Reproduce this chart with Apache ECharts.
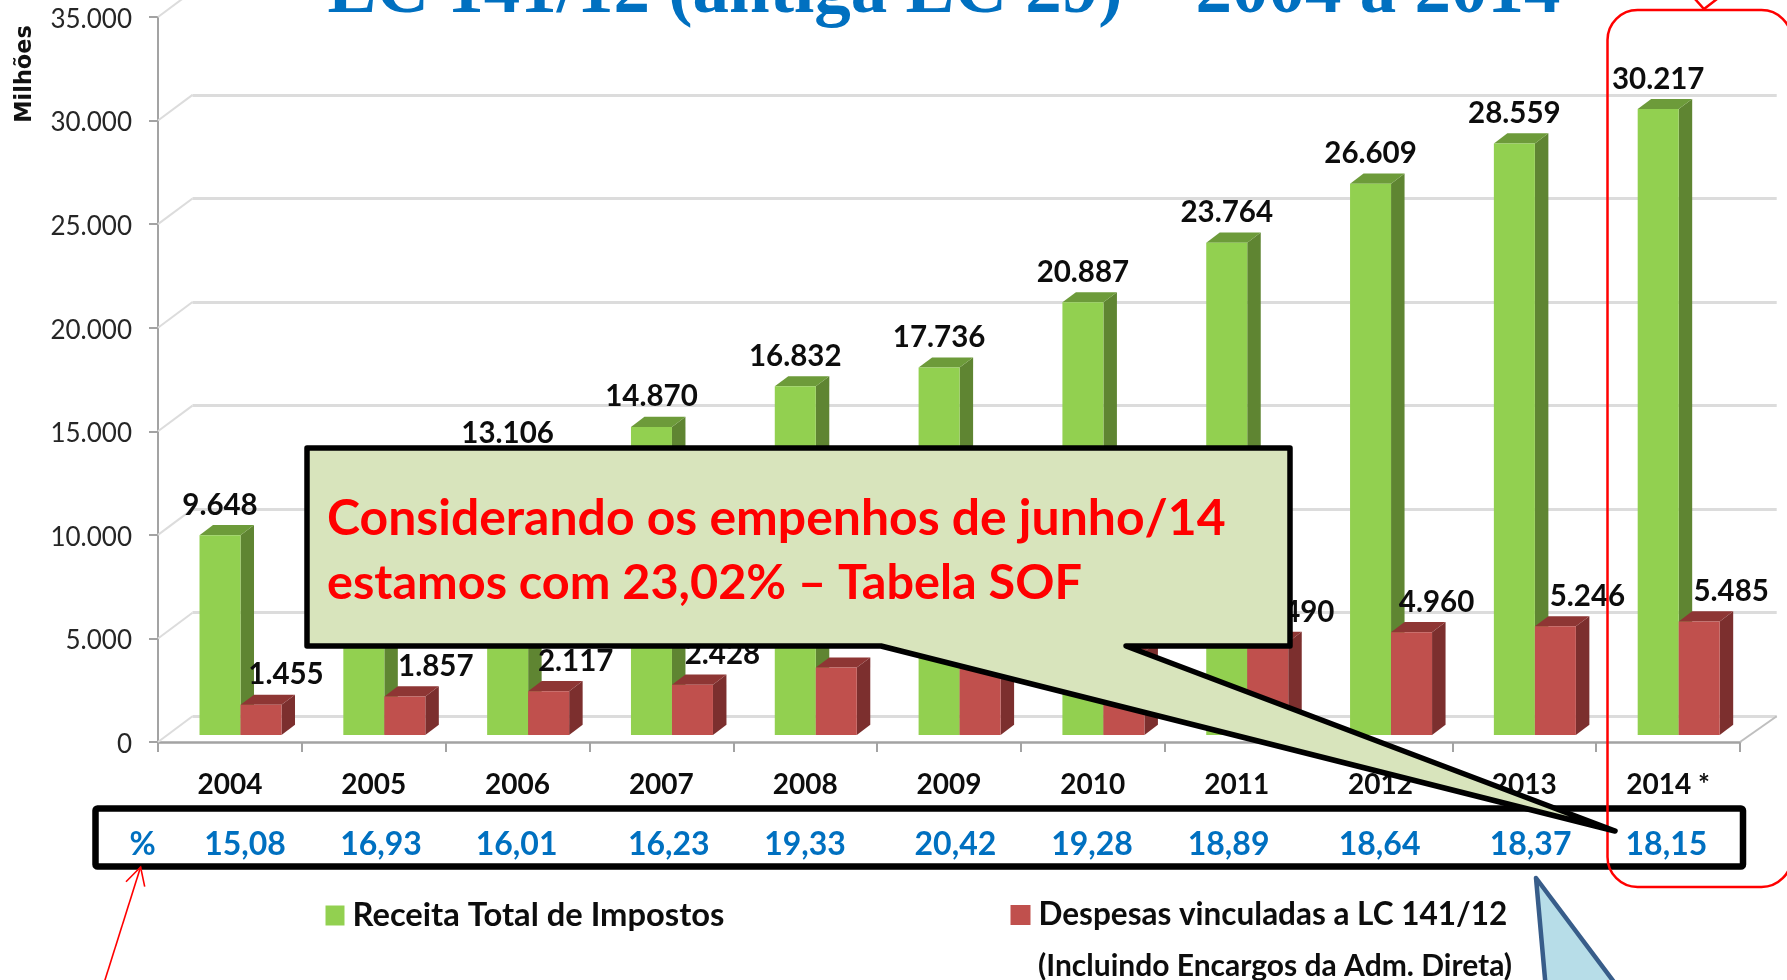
<!DOCTYPE html>
<html><head><meta charset="utf-8">
<script src="https://cdn.jsdelivr.net/npm/echarts@6/dist/echarts.min.js"></script>
<style>html,body{margin:0;padding:0;background:#fff;overflow:hidden}#c{width:1787px;height:980px}</style>
</head><body><div id="c"></div>
<script>
const categories = ['2004','2005','2006','2007','2008','2009','2010','2011','2012','2013','2014 *'];
const receita = [9648,10969,13106,14870,16832,17736,20887,23764,26609,28559,30217];
const despesas = [1455,1857,2117,2428,3254,3622,4027,4490,4960,5246,5485];
const percentuais = ['15,08','16,93','16,01','16,23','19,33','20,42','19,28','18,89','18,64','18,37','18,15'];
const yTicks = [0,5000,10000,15000,20000,25000,30000,35000];
const nameReceita = 'Receita Total de Impostos';
const nameDespesas = 'Despesas vinculadas a LC 141/12';

// layout / style only
const redLabelDx = [25,31,27,30,29,29,29,29,25,32,32];
const pctX = [245,381,516.6,668.8,805,955.4,1092,1228.6,1379.6,1530.6,1666.4];
const BAR_W = 41, DX = 13.5, DY = 10.2;
const FONT = 'Lato, "Liberation Sans", sans-serif';
const WALL = '#DCDCDC', AXIS = '#A3A3A3', BLUE = '#0070C0';

const dots = v => v === 0 ? '0' : String(v).replace(/\B(?=(\d{3})+$)/g, '.');

function depthSeries(values, side, sideColor, topColor, z) {
  return {
    type: 'custom', xAxisIndex: 1, yAxisIndex: 1, z, silent: true,
    data: values.map((v, i) => [i, v]),
    renderItem(params, api) {
      const top = api.coord([api.value(0), api.value(1)]);
      const base = api.coord([api.value(0), 0]);
      const l = side < 0 ? top[0] - BAR_W : top[0];
      const r = l + BAR_W;
      return { type: 'group', children: [
        { type: 'polygon', shape: { points: [[r, top[1]], [r + DX, top[1] - DY], [r + DX, base[1] - DY], [r, base[1]]] }, style: { fill: sideColor } },
        { type: 'polygon', shape: { points: [[l, top[1]], [l + DX, top[1] - DY], [r + DX, top[1] - DY], [r, top[1]]] }, style: { fill: topColor } }
      ] };
    }
  };
}

const barLabel = { show: true, position: 'top', distance: 15, color: '#0d0d0d', fontFamily: FONT, fontWeight: 'bold', fontSize: 29.5, formatter: p => dots(p.value) };

const z9 = 100;
const txt = (text, x, y, fontSize, fill, extra) => Object.assign({
  type: 'text', z: z9, x, y,
  style: Object.assign({ text, fill, fontFamily: FONT, fontWeight: 'bold', fontSize, textAlign: 'center', textVerticalAlign: 'middle' }, extra || {})
});
const legendText = size => ({ fontFamily: FONT, fontWeight: 'bold', fontSize: size, color: '#0d0d0d', padding: [0, 0, 2, 3] });

const graphics = [
  { type: 'rect', z: 50, shape: { x: 95.5, y: 808.5, width: 1647.5, height: 58, r: 2 }, style: { fill: '#fff', stroke: '#000', lineWidth: 6.5 } },
  ...percentuais.map((p, i) => Object.assign(txt(p, pctX[i], 845, 32, BLUE), { z: 51 })),
  Object.assign(txt('%', 142.5, 845, 32, BLUE), { z: 51 }),
  { type: 'rect', z: 52, shape: { x: 1607.5, y: 10, width: 184, height: 877, r: 30 }, style: { fill: 'none', stroke: '#F00', lineWidth: 2.5 } },
  { type: 'polyline', z: 52, shape: { points: [[1695, -1], [1704, 9], [1717, -1]] }, style: { fill: 'none', stroke: '#F00', lineWidth: 2.5 } },
  { type: 'polyline', z: 52, shape: { points: [[103.4, 985], [140.6, 867]] }, style: { stroke: '#F00', lineWidth: 1.6, fill: 'none' } },
  { type: 'polyline', z: 52, shape: { points: [[126, 881.7], [140.6, 867], [144.7, 886.7]] }, style: { stroke: '#F00', lineWidth: 1.6, fill: 'none' } },
  { type: 'polygon', z: z9, shape: { points: [[307, 448], [1290, 448], [1290, 646], [1126, 646], [1615, 831], [881, 646], [307, 646]] },
    style: { fill: '#D8E4BC', stroke: '#000', lineWidth: 5.5, lineJoin: 'round' } },
  { type: 'polygon', z: z9, shape: { points: [[1536, 878], [1620, 990], [1546, 990]] }, style: { fill: '#B7DDE8', stroke: '#385D8A', lineWidth: 4.5, lineJoin: 'round' } },
  txt('Considerando os empenhos de junho/14', 327, 519, 49.9, '#F00', { textAlign: 'left', shadowColor: 'rgba(0,0,0,.45)', shadowBlur: 3, shadowOffsetX: 2, shadowOffsetY: 2 }),
  txt('estamos com 23,02% – Tabela SOF', 327, 583, 48.6, '#F00', { textAlign: 'left', shadowColor: 'rgba(0,0,0,.45)', shadowBlur: 3, shadowOffsetX: 2, shadowOffsetY: 2 }),
  Object.assign(txt('Milhões', 25, 74, 22.4, '#111', { fontFamily: '"DejaVu Sans"' }), { rotation: Math.PI / 2 }),
  txt('(Incluindo Encargos da Adm. Direta)', 1038, 966, 30, '#0d0d0d', { textAlign: 'left' })
];

const chart = echarts.init(document.getElementById('c'));
chart.setOption({
  animation: false,
  backgroundColor: '#fff',
  title: { text: 'LC 141/12 (antiga LC 29) – 2004 a 2014', left: 939, textAlign: 'center', top: -48,
    textStyle: { fontFamily: '"Liberation Serif"', fontWeight: 'bold', fontSize: 73, color: BLUE } },
  grid: [
    { left: 158, width: 1582, top: 17, height: 725, outerBoundsMode: 'none' },
    { left: 168.6, width: 1582, top: 10, height: 725, outerBoundsMode: 'none' },
    { left: 192.5, width: 1584.2, top: -8.7, height: 725, outerBoundsMode: 'none' }
  ],
  legend: [
    { data: [nameReceita], left: 325.5, top: 899, padding: 0, itemWidth: 19, itemHeight: 20, icon: 'rect', textStyle: legendText(32.7) },
    { data: [nameDespesas], left: 1010.5, top: 899, padding: 0, itemWidth: 20, itemHeight: 20, icon: 'rect', textStyle: legendText(31.5) }
  ],
  xAxis: [
    { gridIndex: 0, type: 'category', data: categories, boundaryGap: true,
      axisLine: { lineStyle: { color: AXIS, width: 2.5 } }, axisTick: { show: true, length: 10, lineStyle: { color: AXIS, width: 2 } },
      axisLabel: { margin: 28.5, interval: 0, color: '#0d0d0d', fontFamily: FONT, fontWeight: 'bold', fontSize: 28 } },
    { gridIndex: 1, type: 'category', data: categories, show: false },
    { gridIndex: 2, type: 'category', data: categories, show: false }
  ],
  yAxis: [
    { gridIndex: 0, type: 'value', min: 0, max: 35000, interval: 5000,
      axisLine: { show: true, lineStyle: { color: AXIS, width: 2 } }, axisTick: { show: true, length: 9, lineStyle: { color: AXIS, width: 2 } },
      splitLine: { show: false }, axisLabel: { margin: 26, verticalAlign: 'top', lineHeight: 5, color: '#262626', fontFamily: FONT, fontSize: 26, formatter: dots } },
    { gridIndex: 1, type: 'value', min: 0, max: 35000, interval: 5000, show: false, splitLine: { show: false } },
    { gridIndex: 2, type: 'value', min: 0, max: 35000, interval: 5000, axisLine: { show: false }, axisTick: { show: false }, axisLabel: { show: false },
      splitLine: { show: true, lineStyle: { color: WALL, width: 3 } } }
  ],
  graphic: graphics,
  series: [
    { type: 'custom', xAxisIndex: 0, yAxisIndex: 0, z: 1, silent: true, data: yTicks.map(v => [0, v]),
      renderItem(params, api) {
        const y = api.coord([0, api.value(1)])[1], x = params.coordSys.x;
        const children = [{ type: 'line', shape: { x1: x, y1: y, x2: x + 34.5, y2: y - 25.7 }, style: { stroke: WALL, lineWidth: 2 } }];
        if (api.value(1) === 0) {
          const xr = x + params.coordSys.width;
          children.push({ type: 'line', shape: { x1: xr, y1: y, x2: xr + 36.7, y2: y - 25.7 }, style: { stroke: '#BFBFBF', lineWidth: 2 } });
        }
        return { type: 'group', children };
      } },
    depthSeries(receita, -1, '#5F8532', '#6D9B3A', 3),
    { name: nameReceita, type: 'bar', xAxisIndex: 1, yAxisIndex: 1, z: 4, barWidth: BAR_W, barGap: 0, data: receita,
      itemStyle: { color: '#92D050' }, label: barLabel },
    depthSeries(despesas, 1, '#7C2F2E', '#8E3634', 5),
    { name: nameDespesas, type: 'bar', xAxisIndex: 1, yAxisIndex: 1, z: 6, barWidth: BAR_W, barGap: 0,
      data: despesas.map((v, i) => ({ value: v, label: { offset: [redLabelDx[i], 0] } })),
      itemStyle: { color: '#C0504D' }, label: barLabel }
  ]
});
</script></body></html>
